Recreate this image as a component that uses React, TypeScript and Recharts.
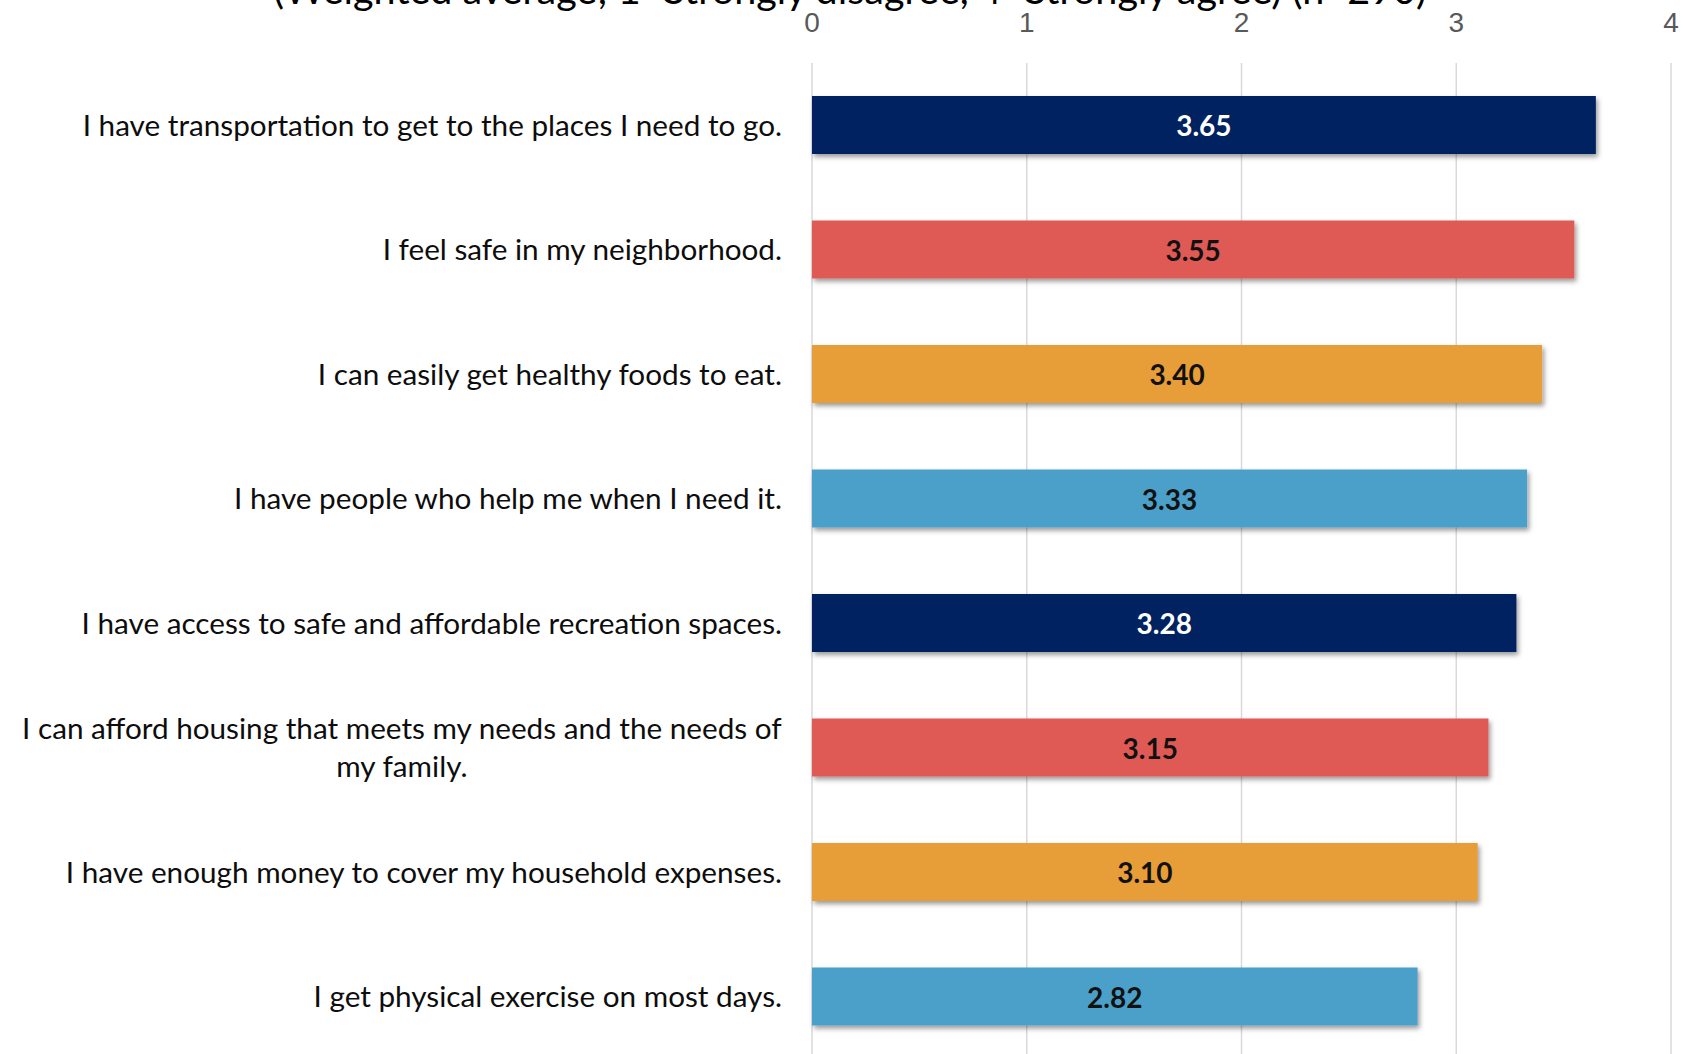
import React from 'react';
import { BarChart, Bar, XAxis, YAxis, CartesianGrid, LabelList } from 'recharts';

const statements = [
  'I have transportation to get to the places I need to go.',
  'I feel safe in my neighborhood.',
  'I can easily get healthy foods to eat.',
  'I have people who help me when I need it.',
  'I have access to safe and affordable recreation spaces.',
  'I can afford housing that meets my needs and the needs of\nmy family.',
  'I have enough money to cover my household expenses.',
  'I get physical exercise on most days.',
];
const scores = [3.65, 3.55, 3.4, 3.33, 3.28, 3.15, 3.1, 2.82];
const xTicks = [0, 1, 2, 3, 4];
const chartTitle = '(Weighted average; 1=Strongly disagree, 4=Strongly agree) (n=290)';

const barColors = ['#002060', '#E05A55', '#E89E37', '#4BA0C9', '#002060', '#E05A55', '#E89E37', '#4BA0C9'];
const valueColors = ['#ffffff', '#111111', '#111111', '#111111', '#ffffff', '#111111', '#111111', '#111111'];

const data = statements.map((statement, i) => ({ statement, score: scores[i] }));

const LABEL_FONT = 'Lato, "Open Sans", sans-serif';
const LABEL_SIZE = 29.7;
const LINE_HEIGHT = 38.6;

let measureCtx: CanvasRenderingContext2D | null = null;
const textWidth = (s: string) => {
  if (!measureCtx) measureCtx = document.createElement('canvas').getContext('2d');
  if (!measureCtx) return s.length * LABEL_SIZE * 0.48;
  measureCtx.font = `${LABEL_SIZE}px Lato`;
  return measureCtx.measureText(s).width;
};

// right-aligned block; wrapped lines are centred within the block
const StatementTick = ({ x, y, payload }: any) => {
  const lines: string[] = String(payload.value).split('\n');
  const n = lines.length;
  const blockW = Math.max(...lines.map(textWidth));
  const anchorX = n > 1 ? x - blockW / 2 : x;
  return (
    <text
      fontFamily={LABEL_FONT}
      fontSize={LABEL_SIZE}
      fill="#0d0d0d"
      textAnchor={n > 1 ? 'middle' : 'end'}
    >
      {lines.map((line, i) => (
        <tspan key={i} x={anchorX} y={y + (i - (n - 1) / 2) * LINE_HEIGHT + LABEL_SIZE * 0.35}>
          {line}
        </tspan>
      ))}
    </text>
  );
};

const ShadowBar = (props: any) => {
  const { x, y, width, height, index } = props;
  return <rect x={x} y={y} width={width} height={height} fill={barColors[index]} filter="url(#barShadow)" />;
};

const ValueLabel = (props: any) => {
  const { x, y, width, height, value, index } = props;
  return (
    <text
      x={x + width / 2}
      y={y + height / 2 + 11}
      textAnchor="middle"
      fontFamily={LABEL_FONT}
      fontWeight={700}
      fontSize={28}
      fill={valueColors[index]}
    >
      {Number(value).toFixed(2)}
    </text>
  );
};

export default function App() {
  return (
    <div style={{ position: 'absolute', left: 0, top: 0, width: 1683, height: 1059, background: '#fff' }}>
      {/* title sits mostly above the page edge, as in the source image */}
      <svg width={1683} height={40} style={{ position: 'absolute', left: 0, top: 0 }}>
        <text
          x={850}
          y={4}
          textAnchor="middle"
          fontFamily={LABEL_FONT}
          fontSize={38}
          fill="#000"
          textLength={1153}
          lengthAdjust="spacingAndGlyphs"
        >
          {chartTitle}
        </text>
      </svg>
      <BarChart
        layout="vertical"
        width={1683}
        height={1059}
        data={data}
        margin={{ top: 23, right: 12, bottom: 0, left: 0 }}
      >
        <defs>
          <filter id="barShadow" x="-5%" y="-20%" width="115%" height="160%">
            <feDropShadow dx={2} dy={3} stdDeviation={2.5} floodColor="#000" floodOpacity={0.4} />
          </filter>
        </defs>
        <CartesianGrid horizontal={false} stroke="#d9d9d9" strokeWidth={1.5} />
        <XAxis
          type="number"
          orientation="top"
          domain={[0, 4]}
          ticks={xTicks}
          height={40}
          axisLine={false}
          tickLine={false}
          tickSize={0}
          tickMargin={31}
          tick={{ fill: '#595959', fontSize: 28, fontFamily: '"Liberation Sans", Arial, sans-serif' }}
        />
        <YAxis
          type="category"
          dataKey="statement"
          width={812}
          axisLine={false}
          tickLine={false}
          tickSize={0}
          tickMargin={30}
          interval={0}
          tick={<StatementTick />}
        />
        <Bar dataKey="score" barSize={58} shape={<ShadowBar />} isAnimationActive={false}>
          <LabelList dataKey="score" content={<ValueLabel />} />
        </Bar>
      </BarChart>
    </div>
  );
}
